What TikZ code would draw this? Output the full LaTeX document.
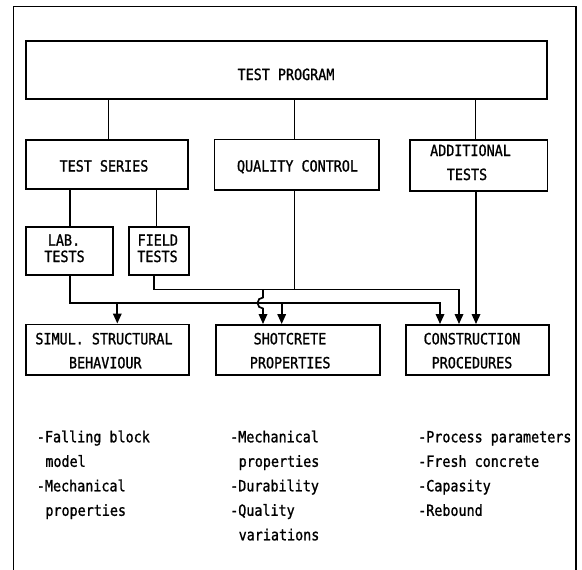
\documentclass[tikz,border=0pt]{standalone}
\usepackage{fontspec}
\newfontfamily\tw[FakeStretch=0.87,FakeBold=1.2]{DejaVu Sans Mono}
\usetikzlibrary{arrows.meta}
\begin{document}
\begin{tikzpicture}[x=1pt,y=-1pt,
  box/.style={draw, line width=1.9pt, inner sep=0pt},
  lbl/.style={font=\tw\fontsize{15.4}{18}\selectfont, inner sep=0pt, anchor=base},
  item/.style={font=\tw\fontsize{15.4}{18}\selectfont, inner sep=0pt, anchor=base west},
  conn/.style={line width=1.7pt},
  arr/.style={line width=1.7pt, -{Triangle[width=8.5pt,length=10pt]}}]
\useasboundingbox (0,0) rectangle (582,570);
% frame
\draw[line width=1.8pt] (13.5,572) -- (13.5,6.5) -- (576,6.5) -- (576,572);
% boxes
\node[box, minimum width=521.2pt, minimum height=58.3pt] (prog) at (286.2,70.15) {};
\node[box, minimum width=162.4pt, minimum height=49pt] (series) at (106.8,164.5) {};
\node[box, minimum width=164.1pt, minimum height=50.5pt] (qc) at (296.55,164.75) {};
\node[box, minimum width=137.5pt, minimum height=51pt] (add) at (478.75,165.5) {};
\node[box, minimum width=87.3pt, minimum height=48.3pt] (lab) at (69.35,250.85) {};
\node[box, minimum width=60pt, minimum height=48pt] (field) at (159,251) {};
\node[box, minimum width=163.6pt, minimum height=50.5pt] (simul) at (107.5,349.75) {};
\node[box, minimum width=163.7pt, minimum height=50pt] (shot) at (297.85,350) {};
\node[box, minimum width=142.4pt, minimum height=50pt] (cons) at (477.5,350) {};
% box texts
\node[lbl] (progT) at (286,80) {TEST PROGRAM};
\node[lbl] (seriesT) at (104,171.5) {TEST SERIES};
\node[lbl] (qcT) at (297.5,171.5) {QUALITY CONTROL};
\node[lbl] (addT1) at (470.5,156) {ADDITIONAL};
\node[lbl] (addT2) at (467,180) {TESTS};
\node[lbl] (labT1) at (64,245.7) {LAB.};
\node[lbl] (labT2) at (64.5,262) {TESTS};
\node[lbl] (fieldT1) at (157.8,245.7) {FIELD};
\node[lbl] (fieldT2) at (157.5,262) {TESTS};
\node[lbl] (simulT1) at (104,344.3) {SIMUL. STRUCTURAL};
\node[lbl] (simulT2) at (105.3,368.3) {BEHAVIOUR};
\node[lbl] (shotT1) at (290,344.3) {SHOTCRETE};
\node[lbl] (shotT2) at (290.2,368.3) {PROPERTIES};
\node[lbl] (consT1) at (472,344.3) {CONSTRUCTION};
\node[lbl] (consT2) at (472,368.3) {PROCEDURES};
% column coordinates
\coordinate (xA) at (108.4,0);
\coordinate (xB) at (294.5,0);
\coordinate (xC) at (475.5,0);
\coordinate (xL) at (70,0);
\coordinate (xF) at (156.5,0);
\coordinate (labturn) at (70,303);
\coordinate (fieldturn) at (154,289.5);
\coordinate (c1) at (440,0);
\coordinate (c2) at (459,0);
\coordinate (c3) at (476,0);
\coordinate (b1) at (117.3,303);
\coordinate (b2) at (281.7,303);
\coordinate (h1) at (263,289.5);
\coordinate (h2) at (263,297.5);
\coordinate (q1) at (294.5,289.5);
% connectors from top
\draw[conn] (prog.south -| xA) -- (series.north -| xA);
\draw[conn] (prog.south -| xB) -- (qc.north -| xB);
\draw[conn] (prog.south -| xC) -- (add.north -| xC);
\draw[conn] (series.south -| xL) -- (lab.north -| xL);
\draw[conn] (series.south -| xF) -- (field.north -| xF);
% lab line
\draw[arr] (lab.south -| labturn) -- (labturn) -- (labturn -| c1) -- (cons.north -| c1);
\draw[arr] (b1) -- (simul.north -| b1);
\draw[arr] (b2) -- (shot.north -| b2);
% field line
\draw[arr] (field.south -| fieldturn) -- (fieldturn) -- (fieldturn -| c2) -- (cons.north -| c2);
\draw[arr] (h1) -- (h2) arc[start angle=270, end angle=90, radius=5.5] -- (shot.north -| h1);
% quality control
\draw[conn] (qc.south -| q1) -- (q1);
% additional tests
\draw[arr] (add.south -| c3) -- (cons.north -| c3);
% lists
\node[item] (l1a) at (36.7,442.3) {-Falling block};
\node[item] (l1b) at (45.2,466.8) {model};
\node[item] (l1c) at (36.7,491.3) {-Mechanical};
\node[item] (l1d) at (45.2,515.8) {properties};
\node[item] (l2a) at (230,442.3) {-Mechanical};
\node[item] (l2b) at (238.5,466.8) {properties};
\node[item] (l2c) at (230,491.3) {-Durability};
\node[item] (l2d) at (230,515.8) {-Quality};
\node[item] (l2e) at (238.5,540.3) {variations};
\node[item] (l3a) at (418,442.3) {-Process parameters};
\node[item] (l3b) at (418,466.8) {-Fresh concrete};
\node[item] (l3c) at (418,491.3) {-Capasity};
\node[item] (l3d) at (418,515.8) {-Rebound};
\end{tikzpicture}
\end{document}
